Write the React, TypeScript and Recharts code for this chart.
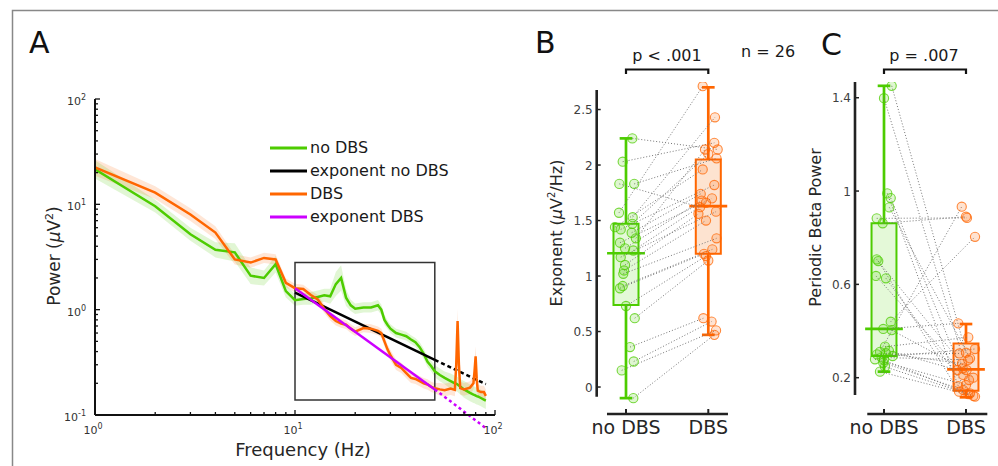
import React from 'react';
import { ComposedChart, Line, Area, Scatter, XAxis, YAxis, ReferenceArea, ReferenceLine, Legend } from 'recharts';

const FONT = '"DejaVu Sans", Verdana, sans-serif';
const GREEN = '#4dcc00';
const ORANGE = '#ff6600';
const MAGENTA = '#cc00ff';
const GREEN_FILL = '#e4f9d8';
const ORANGE_FILL = '#fde3d0';

// ---- panel A: power spectra ----
const freqs = [1, 2, 3, 4, 5, 6, 7, 8, 9, 10, 11, 12, 13, 14, 15, 16, 17, 18, 19, 20, 22, 24, 26, 27, 28, 29, 30, 32, 34, 36, 38, 40, 42, 44, 46, 48, 50, 53, 56, 60, 63, 64, 65, 66, 67, 70, 75, 78, 79, 80, 81, 82, 85, 88, 90];
const powNoDbs = [21.5, 9.6, 5.2, 3.7, 3.5, 2.1, 2.0, 2.7, 1.5, 1.23, 1.26, 1.28, 1.32, 1.37, 1.34, 1.75, 2.0, 1.3, 1.1, 1.02, 1.05, 1.05, 1.1, 1.0, 0.8, 0.72, 0.66, 0.6, 0.58, 0.56, 0.52, 0.49, 0.44, 0.38, 0.32, 0.29, 0.26, 0.24, 0.225, 0.21, 0.2, 0.198, 0.195, 0.19, 0.186, 0.175, 0.162, 0.156, 0.155, 0.153, 0.151, 0.15, 0.145, 0.14, 0.137];
const powDbs = [22.4, 12.9, 8.0, 5.4, 3.0, 2.8, 3.1, 3.0, 1.8, 1.6, 1.57, 1.38, 1.25, 1.02, 0.87, 0.78, 0.74, 0.72, 0.66, 0.62, 0.67, 0.66, 0.63, 0.6, 0.5, 0.42, 0.37, 0.3, 0.28, 0.25, 0.225, 0.22, 0.21, 0.2, 0.195, 0.185, 0.18, 0.175, 0.172, 0.178, 0.173, 0.3, 0.78, 0.3, 0.18, 0.175, 0.182, 0.2, 0.26, 0.36, 0.22, 0.17, 0.165, 0.165, 0.152];
const spreadNoDbs = [1.22, 1.15, 1.15, 1.18, 1.22, 1.2, 1.18, 1.2, 1.15, 1.13, 1.13, 1.15, 1.15, 1.15, 1.18, 1.3, 1.32, 1.2, 1.13, 1.12, 1.12, 1.12, 1.12, 1.12, 1.12, 1.1, 1.1, 1.1, 1.1, 1.1, 1.1, 1.1, 1.12, 1.12, 1.12, 1.12, 1.14, 1.15, 1.15, 1.18, 1.18, 1.18, 1.18, 1.18, 1.18, 1.2, 1.2, 1.2, 1.2, 1.2, 1.2, 1.2, 1.2, 1.2, 1.2];
const spreadDbs = [1.2, 1.15, 1.15, 1.15, 1.12, 1.12, 1.12, 1.12, 1.1, 1.1, 1.1, 1.1, 1.1, 1.1, 1.1, 1.1, 1.1, 1.1, 1.1, 1.1, 1.1, 1.1, 1.1, 1.1, 1.12, 1.12, 1.12, 1.12, 1.12, 1.12, 1.12, 1.12, 1.12, 1.12, 1.12, 1.12, 1.12, 1.15, 1.15, 1.15, 1.15, 1.3, 1.3, 1.3, 1.15, 1.15, 1.15, 1.15, 1.25, 1.25, 1.25, 1.15, 1.15, 1.15, 1.15];

// aperiodic fits (fitted range + extrapolation)
const fitFreqs = [10, 50];
const extFreqs = [50, 90];
const fitNoDbs = [1.45, 0.334];
const extNoDbs = [0.334, 0.196];
const fitDbs = [1.6, 0.175];
const extDbs = [0.175, 0.075];
const fitBoxFreq = [10, 50];
const fitBoxPow = [0.139, 2.8];

const freqTicks = [1, 2, 3, 4, 5, 6, 7, 8, 9, 10, 20, 30, 40, 50, 60, 70, 80, 90, 100];
const powTicks = [0.1, 0.2, 0.3, 0.4, 0.5, 0.6, 0.7, 0.8, 0.9, 1, 2, 3, 4, 5, 6, 7, 8, 9, 10, 20, 30, 40, 50, 60, 70, 80, 90, 100];

const legendItems = [
  { name: 'no DBS', color: GREEN },
  { name: 'exponent no DBS', color: '#000' },
  { name: 'DBS', color: ORANGE },
  { name: 'exponent DBS', color: MAGENTA },
];

// ---- panels B / C: paired subjects (n = 26) ----
const groups = ['no DBS', 'DBS'];

const expNoDbs = [2.24, 2.03, 1.83, 1.83, 1.57, 1.53, 1.47, 1.44, 1.42, 1.39, 1.34, 1.30, 1.25, 1.23, 1.17, 1.10, 1.05, 1.02, 0.91, 0.89, 0.73, 0.62, 0.36, 0.23, 0.15, -0.10];
const expNoDbsJit = [0.077, -0.04, -0.081, 0.10, -0.085, 0.081, 0.077, -0.134, -0.064, 0.069, 0.12, -0.073, -0.012, 0.089, -0.064, -0.012, -0.024, -0.033, -0.04, -0.073, 0, 0.106, 0.049, 0.094, -0.052, 0.089];
const expDbs = [2.14, 2.20, 1.62, 2.06, 2.71, 2.43, 2.10, 1.96, 1.82, 1.74, 2.14, 1.70, 1.68, 1.66, 1.58, 1.56, 1.50, 1.34, 1.24, 1.20, 1.18, 1.14, 0.62, 0.59, 0.51, 0.47];
const expDbsJit = [0.114, 0.073, -0.1, 0.1, -0.068, 0.081, 0, -0.068, 0.073, -0.092, -0.04, 0.045, -0.08, -0.028, 0.094, -0.12, -0.028, 0.1, 0.049, -0.052, -0.028, 0, -0.06, 0.04, 0.094, 0.073];
const expStatsNoDbs = [-0.10, 0.74, 1.205, 1.47, 2.24]; // lo, q1, median, q3, hi
const expStatsDbs = [0.47, 1.20, 1.63, 2.05, 2.70];

const betaNoDbs = [1.451, 1.398, 0.99, 0.97, 0.93, 0.883, 0.862, 0.707, 0.70, 0.636, 0.626, 0.44, 0.409, 0.404, 0.333, 0.311, 0.305, 0.293, 0.287, 0.279, 0.264, 0.247, 0.226, 0.30, 0.315, 0.275];
const betaNoDbsJit = [0.094, 0, 0.04, 0.082, 0.065, -0.089, -0.016, -0.089, -0.07, -0.098, 0.024, 0.082, -0.009, 0.094, 0.012, -0.049, 0.024, 0.106, -0.028, -0.11, -0.009, 0.012, -0.049, -0.085, 0.06, 0];
const betaDbs = [0.307, 0.233, 0.164, 0.212, 0.283, 0.885, 0.89, 0.2, 0.14, 0.19, 0.133, 0.804, 0.433, 0.24, 0.373, 0.933, 0.26, 0.323, 0.276, 0.169, 0.147, 0.13, 0.122, 0.304, 0.233, 0.119];
const betaDbsJit = [0, 0.008, -0.094, -0.033, 0.049, 0.012, 0, 0.089, -0.085, 0.037, 0.049, 0.11, -0.094, -0.04, 0.028, -0.052, -0.049, 0.11, 0.028, 0, -0.033, 0.028, 0.089, -0.082, -0.106, 0.11];
const betaStatsNoDbs = [0.226, 0.293, 0.409, 0.862, 1.451];
const betaStatsDbs = [0.116, 0.144, 0.236, 0.347, 0.43];

const expTicks = [0, 0.5, 1, 1.5, 2, 2.5];
const betaTicks = [0.2, 0.6, 1, 1.4];

const spectrum = freqs.map((f, i) => ({
  f,
  g: powNoDbs[i],
  o: powDbs[i],
  gBand: [powNoDbs[i] / spreadNoDbs[i], powNoDbs[i] * spreadNoDbs[i]],
  oBand: [powDbs[i] / spreadDbs[i], powDbs[i] * spreadDbs[i]],
}));

const toPts = (xs: number[], ys: number[]) => xs.map((f, i) => ({ f, p: ys[i] }));

const isDecade = (v: number) => {
  const e = Math.log10(v);
  return Math.abs(e - Math.round(e)) < 1e-6;
};

const FreqTick = (props: any) => {
  const { x, y, payload } = props;
  const major = isDecade(payload.value);
  return (
    <g>
      <line x1={x} x2={x} y1={y} y2={y - (major ? 5 : 3)} stroke="#111" strokeWidth={1.3} />
      {major && (
        <text x={x - 2} y={y + 19} textAnchor="middle" fontSize={11} fill="#333" fontFamily={FONT}>
          10<tspan dy={-5} fontSize={8}>{Math.round(Math.log10(payload.value))}</tspan>
        </text>
      )}
    </g>
  );
};

const PowTick = (props: any) => {
  const { x, y, payload } = props;
  const major = isDecade(payload.value);
  return (
    <g>
      <line x1={x} x2={x + (major ? 5 : 3)} y1={y} y2={y} stroke="#111" strokeWidth={1.3} />
      {major && (
        <text x={x - 9} y={y + 6} textAnchor="end" fontSize={11} fill="#333" fontFamily={FONT}>
          10<tspan dy={-5} fontSize={8}>{Math.round(Math.log10(payload.value))}</tspan>
        </text>
      )}
    </g>
  );
};

const GroupTick = (props: any) => {
  const { x, y, payload } = props;
  return (
    <g>
      <line x1={x} x2={x} y1={y} y2={y - 5} stroke="#222" strokeWidth={2} />
      <text x={x} y={y + 20} textAnchor="middle" fontSize={19} fill="#262626" fontFamily={FONT}>
        {groups[payload.value - 1]}
      </text>
    </g>
  );
};

const ValueTick = (props: any) => {
  const { x, y, payload } = props;
  return (
    <g>
      <line x1={x} x2={x + 4} y1={y} y2={y} stroke="#222" strokeWidth={1.5} />
      <text x={x - 4} y={y + 4.5} textAnchor="end" fontSize={12} fill="#404040" fontFamily={FONT}>
        {payload.value}
      </text>
    </g>
  );
};

const SpectrumLegend = () => (
  <div style={{ fontFamily: FONT, fontSize: 16, color: '#1a1a1a' }}>
    {legendItems.map((it) => (
      <div key={it.name} style={{ display: 'flex', alignItems: 'center', height: 23, whiteSpace: 'nowrap' }}>
        <svg width={40} height={6}>
          <line x1={0} x2={37} y1={3} y2={3} stroke={it.color} strokeWidth={3} />
        </svg>
        <span>{it.name}</span>
      </div>
    ))}
  </div>
);

function SpectrumChart() {
  return (
    <ComposedChart width={520} height={466} data={spectrum} margin={{ top: 99, right: 25, bottom: 11, left: 35 }}>
      <XAxis dataKey="f" type="number" scale="log" domain={[1, 100]} allowDataOverflow ticks={freqTicks} interval={0}
        tick={<FreqTick />} tickLine={false} tickSize={0} tickMargin={0} axisLine={{ stroke: '#111', strokeWidth: 2 }} height={40} />
      <YAxis type="number" scale="log" domain={[0.1, 100]} allowDataOverflow ticks={powTicks} interval={0}
        tick={<PowTick />} tickLine={false} tickSize={0} tickMargin={0} axisLine={{ stroke: '#111', strokeWidth: 2 }} width={60} />
      <Area dataKey="gBand" stroke="none" fill={GREEN} fillOpacity={0.17} dot={false} activeDot={false} isAnimationActive={false} />
      <Area dataKey="oBand" stroke="none" fill={ORANGE} fillOpacity={0.16} dot={false} activeDot={false} isAnimationActive={false} />
      <ReferenceArea x1={fitBoxFreq[0]} x2={fitBoxFreq[1]} y1={fitBoxPow[0]} y2={fitBoxPow[1]} fill="none" fillOpacity={0} stroke="#333" strokeWidth={1.5} ifOverflow="visible" />
      <Line dataKey="g" stroke={GREEN} strokeWidth={2.5} dot={false} activeDot={false} isAnimationActive={false} />
      <Line data={toPts(fitFreqs, fitNoDbs)} dataKey="p" stroke="#000" strokeWidth={2.5} dot={false} activeDot={false} isAnimationActive={false} />
      <Line data={toPts(extFreqs, extNoDbs)} dataKey="p" stroke="#000" strokeWidth={2.5} strokeDasharray="4 3" dot={false} activeDot={false} isAnimationActive={false} />
      <Line dataKey="o" stroke={ORANGE} strokeWidth={2.5} dot={false} activeDot={false} isAnimationActive={false} />
      <Line data={toPts(fitFreqs, fitDbs)} dataKey="p" stroke={MAGENTA} strokeWidth={2.5} dot={false} activeDot={false} isAnimationActive={false} />
      <Line className="noclip" data={toPts(extFreqs, extDbs)} dataKey="p" stroke={MAGENTA} strokeWidth={2.5} strokeDasharray="3 3" dot={false} activeDot={false} isAnimationActive={false} />
      <Legend layout="vertical" align="center" verticalAlign="middle" wrapperStyle={{ left: 270, top: 136, width: 220 }} content={() => <SpectrumLegend />} />
    </ComposedChart>
  );
}

const ring = (color: string) => (p: any) => (
  <circle cx={p.cx} cy={p.cy} r={4.6} fill={color} fillOpacity={0.18} stroke={color} strokeOpacity={0.75} strokeWidth={1.1} />
);

function boxParts(c: number, color: string, fill: string, s: number[], key: string) {
  const [lo, q1, med, q3, hi] = s;
  return [
    <ReferenceLine key={key + 'w1'} segment={[{ x: c, y: lo }, { x: c, y: q1 }]} stroke={color} strokeWidth={2.7} ifOverflow="visible" />,
    <ReferenceLine key={key + 'w2'} segment={[{ x: c, y: q3 }, { x: c, y: hi }]} stroke={color} strokeWidth={2.7} ifOverflow="visible" />,
    <ReferenceLine key={key + 'c1'} segment={[{ x: c - 0.077, y: lo }, { x: c + 0.077, y: lo }]} stroke={color} strokeWidth={2.7} ifOverflow="visible" />,
    <ReferenceLine key={key + 'c2'} segment={[{ x: c - 0.077, y: hi }, { x: c + 0.077, y: hi }]} stroke={color} strokeWidth={2.7} ifOverflow="visible" />,
    <ReferenceArea key={key + 'b'} x1={c - 0.152} x2={c + 0.152} y1={q1} y2={q3} fill={fill} fillOpacity={1} stroke={color} strokeWidth={2} ifOverflow="visible" />,
    <ReferenceLine key={key + 'm'} segment={[{ x: c - 0.23, y: med }, { x: c + 0.23, y: med }]} stroke={color} strokeWidth={2.7} ifOverflow="visible" />,
  ];
}

type PanelCfg = {
  width: number;
  marginLeft: number;
  xDomain: [number, number];
  yDomain: [number, number];
  yTicks: number[];
  yAxisSpan: [number, number];
  xAxisSpan: [number, number];
  pre: number[];
  preJit: number[];
  post: number[];
  postJit: number[];
  preStats: number[];
  postStats: number[];
};

function PairedChart({ cfg }: { cfg: PanelCfg }) {
  const prePts = cfg.pre.map((y, i) => ({ x: 1 + cfg.preJit[i], y }));
  const postPts = cfg.post.map((y, i) => ({ x: 2 + cfg.postJit[i], y }));
  return (
    <ComposedChart width={cfg.width} height={466} margin={{ top: 82, right: 10, bottom: 0, left: cfg.marginLeft }}>
      <XAxis dataKey="x" type="number" domain={cfg.xDomain} allowDataOverflow ticks={[1, 2]} interval={0}
        tick={<GroupTick />} tickLine={false} tickSize={0} tickMargin={0} axisLine={false} height={52} />
      <YAxis dataKey="y" type="number" domain={cfg.yDomain} allowDataOverflow ticks={cfg.yTicks} interval={0}
        tick={<ValueTick />} tickLine={false} tickSize={0} tickMargin={0} axisLine={false} width={50} />
      <ReferenceLine segment={[{ x: cfg.xDomain[0], y: cfg.yAxisSpan[0] }, { x: cfg.xDomain[0], y: cfg.yAxisSpan[1] }]} stroke="#222" strokeWidth={2.6} ifOverflow="visible" />
      <ReferenceLine segment={[{ x: cfg.xAxisSpan[0], y: cfg.yDomain[0] }, { x: cfg.xAxisSpan[1], y: cfg.yDomain[0] }]} stroke="#222" strokeWidth={2.6} ifOverflow="visible" />
      {boxParts(1, GREEN, GREEN_FILL, cfg.preStats, 'pre')}
      {boxParts(2, ORANGE, ORANGE_FILL, cfg.postStats, 'post')}
      {prePts.map((p, i) => (
        <Line key={'pair' + i} data={[p, postPts[i]]} dataKey="y" stroke="#777" strokeWidth={1} strokeDasharray="1 2"
          dot={false} activeDot={false} isAnimationActive={false} legendType="none" />
      ))}
      <Scatter data={prePts} shape={ring(GREEN)} isAnimationActive={false} />
      <Scatter data={postPts} shape={ring(ORANGE)} isAnimationActive={false} />
    </ComposedChart>
  );
}

const panelB: PanelCfg = {
  width: 200,
  marginLeft: 6.7,
  xDomain: [0.644, 2.2637],
  yDomain: [-0.243, 2.748],
  yTicks: expTicks,
  yAxisSpan: [-0.087, 2.676],
  xAxisSpan: [0.769, 2.239],
  pre: expNoDbs,
  preJit: expNoDbsJit,
  post: expDbs,
  postJit: expDbsJit,
  preStats: expStatsNoDbs,
  postStats: expStatsDbs,
};

const panelC: PanelCfg = {
  width: 198,
  marginLeft: 5,
  xDomain: [0.6463, 2.2683],
  yDomain: [0.0444, 1.4674],
  yTicks: betaTicks,
  yAxisSpan: [0.126, 1.467],
  xAxisSpan: [0.796, 2.26],
  pre: betaNoDbs,
  preJit: betaNoDbsJit,
  post: betaDbs,
  postJit: betaDbsJit,
  preStats: betaStatsNoDbs,
  postStats: betaStatsDbs,
};

export default function App() {
  return (
    <div style={{ position: 'relative', width: 998, height: 466, background: '#fff', overflow: 'hidden', fontFamily: FONT }}>
      <style>{'body{margin:0}.noclip,.noclip *{clip-path:none !important}'}</style>
      <div style={{ position: 'absolute', left: 0, top: 0 }}>
        <SpectrumChart />
      </div>
      <div style={{ position: 'absolute', left: 540, top: 0 }}>
        <PairedChart cfg={panelB} />
      </div>
      <div style={{ position: 'absolute', left: 800, top: 0 }}>
        <PairedChart cfg={panelC} />
      </div>
      <svg width={998} height={466} style={{ position: 'absolute', left: 0, top: 0, pointerEvents: 'none' }} fontFamily={FONT}>
        <path d="M12.5,466 V10.5 H998" fill="none" stroke="#888" strokeWidth={1.5} />
        <text x={29} y={53} fontSize={30} fill="#111">A</text>
        <text x={535} y={53} fontSize={30} fill="#111">B</text>
        <text x={821} y={55} fontSize={30} fill="#111">C</text>

        <text transform="translate(59.5,256) rotate(-90)" textAnchor="middle" fontSize={17} fill="#262626">
          Power (<tspan fontStyle="italic">μ</tspan>V<tspan dy={-7} fontSize={11}>2</tspan><tspan dy={7}>)</tspan>
        </text>
        <text x={303} y={456} textAnchor="middle" fontSize={18} fill="#262626">Frequency (Hz)</text>

        <text transform="translate(562,233) rotate(-90)" textAnchor="middle" fontSize={16} fill="#262626">
          Exponent (<tspan fontStyle="italic">μ</tspan>V<tspan dy={-7} fontSize={10}>2</tspan><tspan dy={7}>/Hz)</tspan>
        </text>
        <text transform="translate(821,227.5) rotate(-90)" textAnchor="middle" fontSize={16} fill="#262626">Periodic Beta Power</text>

        <text x={667} y={61} textAnchor="middle" fontSize={16} fill="#1a1a1a">p &lt; .001</text>
        <path d="M626,74 V69.5 H708.3 V74" fill="none" stroke="#111" strokeWidth={2.2} />
        <text x={741} y={57} fontSize={16} fill="#1a1a1a">n = 26</text>
        <text x={924} y={61} textAnchor="middle" fontSize={16} fill="#1a1a1a">p = .007</text>
        <path d="M884,74 V69.5 H966 V74" fill="none" stroke="#111" strokeWidth={2.2} />
      </svg>
    </div>
  );
}
